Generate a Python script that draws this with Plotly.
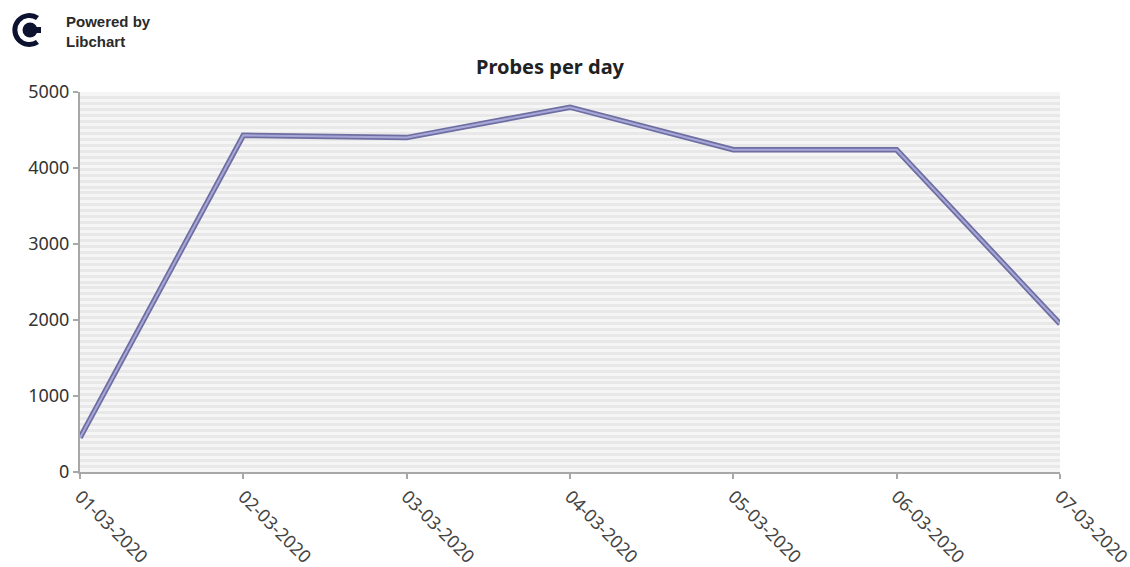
import base64
import plotly.graph_objects as go

# ── datos ────────────────────────────────────────────────────────────────────
DIAS = ["01-03-2020", "02-03-2020", "03-03-2020", "04-03-2020",
        "05-03-2020", "06-03-2020", "07-03-2020"]
PROBES = [450, 4430, 4400, 4800, 4240, 4240, 1950]
Y_TICKS = [0, 1000, 2000, 3000, 4000, 5000]

W, H = 1130, 567
L, R, T, B = 80, 70, 92, 95

FONT = "Noto Sans, DejaVu Sans, sans-serif"

# logo libchart (svg inline)
logo_svg = """<svg xmlns='http://www.w3.org/2000/svg' width='40' height='44' viewBox='0 0 40 44'>
<rect width='40' height='44' fill='white'/>
<path d='M31 8 A17 17 0 1 0 31 36 L28 32 A12 12 0 1 1 28 12 Z' fill='#0c1230'/>
<circle cx='22' cy='22' r='7.5' fill='#0c1230'/>
<rect x='27' y='19' width='6' height='6' fill='#0c1230'/>
</svg>"""
logo_uri = "data:image/svg+xml;base64," + base64.b64encode(logo_svg.encode()).decode()


def px_x(px):
    return (px - L) / (W - L - R)


def px_y(py):
    return (H - B - py) / (H - T - B)


fig = go.Figure()

fig.add_trace(go.Scatter(
    x=DIAS, y=PROBES, mode="lines",
    line=dict(color="#6e6ea2", width=5.5),
    hoverinfo="skip", showlegend=False,
))
fig.add_trace(go.Scatter(
    x=DIAS, y=PROBES, mode="lines",
    line=dict(color="#a8a8d8", width=2),
    showlegend=False,
))

fig.add_annotation(
    text="<b>Probes per day</b>", x=px_x(550), xref="paper",
    y=px_y(51), yref="paper", showarrow=False,
    font=dict(family=FONT, size=20, color="#222"),
)
fig.add_annotation(
    text="<b>Powered by</b><br><b>Libchart</b>", x=px_x(64), xref="paper", xanchor="left",
    y=px_y(31), yref="paper", yanchor="middle", showarrow=False, align="left",
    font=dict(family="Liberation Sans Narrow, Liberation Sans, sans-serif", size=15, color="#2a2a2a"),
)
fig.add_layout_image(
    source=logo_uri, xref="paper", yref="paper",
    x=px_x(8), y=px_y(8), sizex=40 / (W - L - R), sizey=44 / (H - T - B),
    xanchor="left", yanchor="top", sizing="stretch", layer="above",
)

fig.update_xaxes(
    type="category", range=[0, len(DIAS) - 1], automargin=False,
    showgrid=False, showline=True, linecolor="#a8a8a8", linewidth=2,
    ticks="outside", ticklen=5, tickcolor="#a8a8a8", tickwidth=2,
    tickangle=45, tickfont=dict(family=FONT, size=18, color="#444"),
)
fig.update_yaxes(
    range=[0, 5000], tickvals=Y_TICKS, automargin=False,
    showgrid=False, zeroline=False,
    showline=True, linecolor="#a8a8a8", linewidth=2,
    ticks="outside", ticklen=5, tickcolor="#a8a8a8", tickwidth=2,
    tickfont=dict(family=FONT, size=18, color="#333"),
    minor=dict(tickmode="linear", tick0=0, dtick=5000 / 64, showgrid=True,
               gridcolor="#e8e8e8", gridwidth=3, ticks=""),
)

fig.update_layout(
    width=W, height=H,
    margin=dict(l=L, r=R, t=T, b=B, autoexpand=False),
    paper_bgcolor="white", plot_bgcolor="#f5f5f5",
    font=dict(family=FONT),
)

# quitar el margen por defecto del body para que la figura quede en (0, 0)
fig.write_html("out.html", config={"displayModeBar": False},
               post_script="document.body.style.margin='0';")
